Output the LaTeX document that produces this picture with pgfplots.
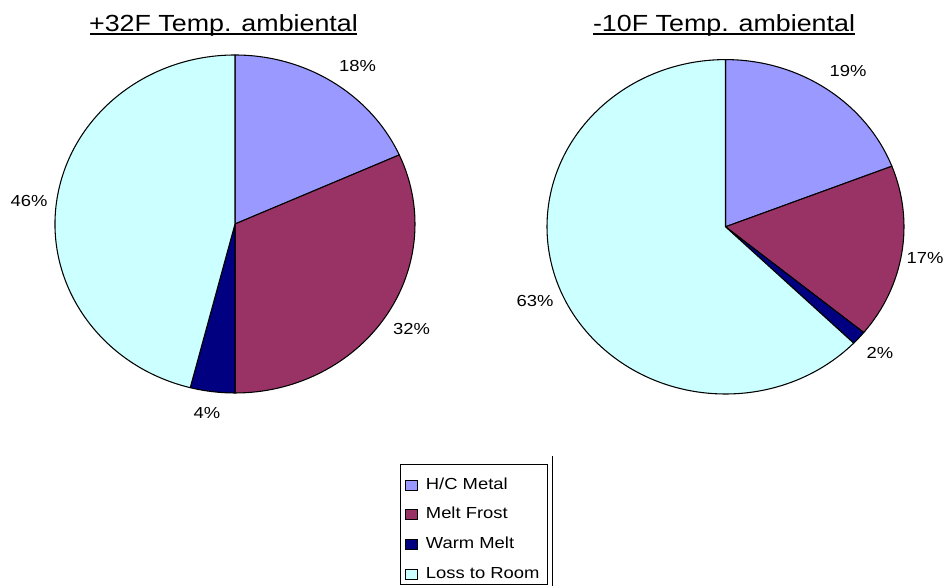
\documentclass[border=0pt]{standalone}
\usepackage{pgfplots}
\pgfplotsset{compat=1.18}
\usepackage{fontspec}
\setmainfont{Liberation Sans}[FakeStretch=1.15]
\definecolor{hc}{HTML}{9999FF}
\definecolor{mf}{HTML}{993366}
\definecolor{wm}{HTML}{000080}
\definecolor{lr}{HTML}{CCFFFF}
% cx cy rx ry start% end% colour
\newcommand{\slice}[7]{%
  \filldraw[fill=#7, draw=black, line width=0.8pt, line join=round]
   (axis cs:#1,#2) -- (axis cs:{#1+#3*cos(90-3.6*#5)},{#2+#4*sin(90-3.6*#5)})
   arc[start angle={90-3.6*#5}, end angle={90-3.6*#6}, x radius={#3*0.75pt}, y radius={#4*0.75pt}] -- cycle;
}
\begin{document}
\begin{tikzpicture}
\begin{axis}[x=0.75pt,y=0.75pt,xmin=0,xmax=948,ymin=0,ymax=586,hide axis,scale only axis,clip=false,
  legend image code/.code={\draw[#1,draw=black,line width=0.6pt] (0pt,-3.75pt) rectangle (8.6pt,3.75pt); \path (15pt,0pt);},
  legend style={at={(axis cs:405,108.7)},anchor=north west,draw=none,fill=none,
    font=\fontsize{12}{14}\selectfont,row sep=11.2pt,column sep=0pt,inner sep=0pt,
    nodes={inner sep=0pt,text height=8.6pt,text depth=2.5pt}},
  legend cell align=left]
\path (axis cs:0,0) rectangle (axis cs:948,586);
\addlegendimage{fill=hc}\addlegendentry{H/C Metal}
\addlegendimage{fill=mf}\addlegendentry{Melt Frost}
\addlegendimage{fill=wm}\addlegendentry{Warm Melt}
\addlegendimage{fill=lr}\addlegendentry{Loss to Room}
% left pie: 18.3, 31.7, 4.0, 46.0
\slice{235}{362}{180}{169}{0}{18.3}{hc}
\slice{235}{362}{180}{169}{18.3}{50.0}{mf}
\slice{235}{362}{180}{169}{50.0}{54.0}{wm}
\slice{235}{362}{180}{169}{54.0}{100}{lr}
% right pie: 19.1, 16.8, 1.35, 62.75
\slice{725.5}{359.2}{178.5}{167.2}{0}{19.1}{hc}
\slice{725.5}{359.2}{178.5}{167.2}{19.1}{35.9}{mf}
\slice{725.5}{359.2}{178.5}{167.2}{35.9}{37.25}{wm}
\slice{725.5}{359.2}{178.5}{167.2}{37.25}{100}{lr}
% titles
\node[anchor=base,inner sep=0pt] at (axis cs:223.5,554) {\fontsize{17.5}{20}\selectfont +32F Temp. ambiental};
\draw[line width=1.4pt] (axis cs:90,552.3) -- (axis cs:357,552.3);
\node[anchor=base,inner sep=0pt] at (axis cs:724,554) {\fontsize{17.5}{20}\selectfont -10F Temp. ambiental};
\draw[line width=1.4pt] (axis cs:593,552.3) -- (axis cs:855,552.3);
% labels
\begin{scope}[font=\fontsize{12}{14}\selectfont]
\node at (axis cs:357.5,520) {18\%};
\node at (axis cs:411.5,257) {32\%};
\node at (axis cs:207,173) {4\%};
\node at (axis cs:29,385) {46\%};
\node at (axis cs:848,515) {19\%};
\node at (axis cs:925,328) {17\%};
\node at (axis cs:880,233) {2\%};
\node at (axis cs:535,285) {63\%};
\end{scope}
\draw[line width=0.75pt] (axis cs:400,121) rectangle (axis cs:547,2);
\draw[line width=0.75pt] (axis cs:552,130) -- (axis cs:552,0);
\end{axis}
\end{tikzpicture}
\end{document}
